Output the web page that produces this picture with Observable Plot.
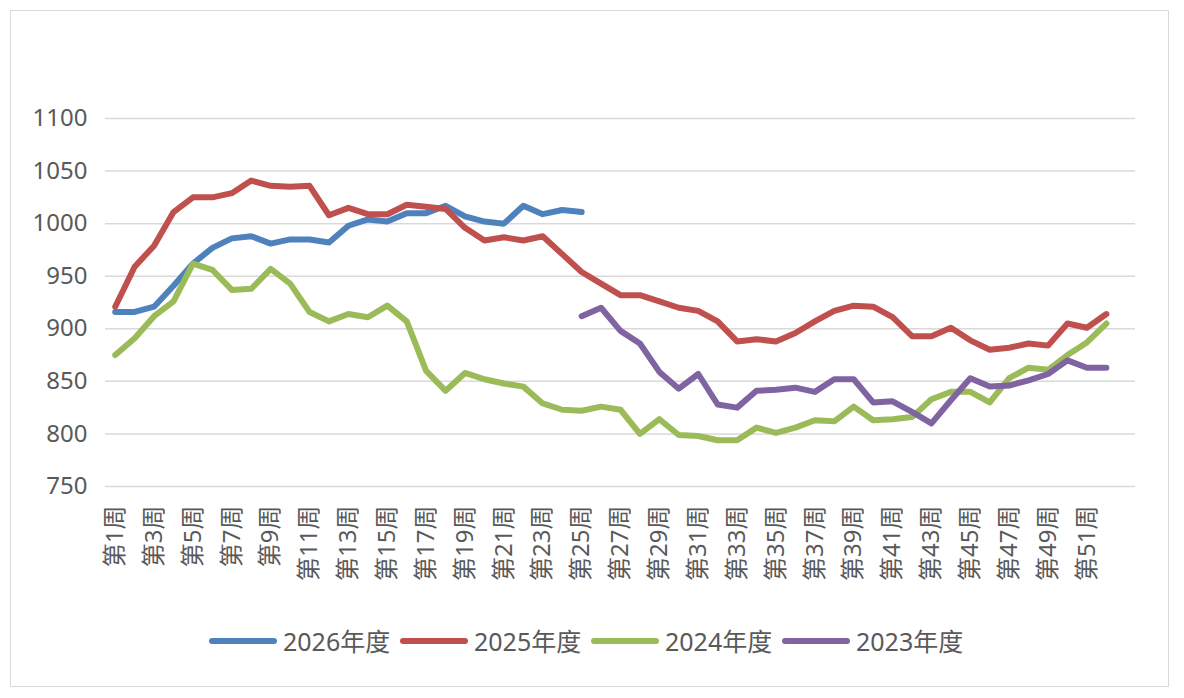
<!DOCTYPE html>
<html>
<head>
<meta charset="utf-8">
<script src="https://cdn.jsdelivr.net/npm/d3@7"></script>
<script src="https://cdn.jsdelivr.net/npm/@observablehq/plot@0.6"></script>
<style>
  html, body { margin: 0; padding: 0; background: #fff; }
  body { width: 1184px; height: 698px; position: relative; overflow: hidden;
         font-family: "Noto Sans", "Noto Sans CJK SC", sans-serif; color: #595959; }
  #frame { position: absolute; left: 10px; top: 10px; width: 1159px; height: 677px;
           border: 1px solid #d9d9d9; box-sizing: border-box; pointer-events: none; }
  #chart { position: absolute; left: 0; top: 0; }
  #legend { position: absolute; left: 0; top: 624px; width: 1184px; height: 34px; }
  .item { position: absolute; top: 0; height: 34px; display: flex; align-items: center; }
  .sw { width: 68px; height: 6px; border-radius: 3px; margin-right: 6px; }
  .lt { font-size: 25px; line-height: 34px; color: #595959; }
</style>
</head>
<body>
<div id="chart"></div>
<div id="legend"></div>
<div id="frame"></div>
<script>
const weeks = [1,2,3,4,5,6,7,8,9,10,11,12,13,14,15,16,17,18,19,20,21,22,23,24,25,26,27,28,29,30,31,32,33,34,35,36,37,38,39,40,41,42,43,44,45,46,47,48,49,50,51,52,53];
const tickWeeks = [1,3,5,7,9,11,13,15,17,19,21,23,25,27,29,31,33,35,37,39,41,43,45,47,49,51];
const yTicks = [750,800,850,900,950,1000,1050,1100];

const seriesNames = ["2026年度","2025年度","2024年度","2023年度"];
const seriesColors = ["#4f81bd","#c0504d","#9bbb59","#8064a2"];

// values by week, starting at the given week
const s2026 = [916,916,921,941,962,977,986,988,981,985,985,982,998,1004,1002,1010,1010,1017,1007,1002,1000,1017,1009,1013,1011];
const s2026Start = 1;
const s2025 = [921,959,979,1011,1025,1025,1029,1041,1036,1035,1036,1008,1015,1009,1009,1018,1016,1014,996,984,987,984,988,971,954,943,932,932,926,920,917,907,888,890,888,896,907,917,922,921,911,893,893,901,889,880,882,886,884,905,901,914];
const s2025Start = 1;
const s2024 = [875,891,912,926,962,956,937,938,957,943,916,907,914,911,922,907,860,841,858,852,848,845,829,823,822,826,823,800,814,799,798,794,794,806,801,806,813,812,826,813,814,816,833,840,840,830,853,863,861,875,887,905];
const s2024Start = 1;
const s2023 = [912,920,898,886,859,843,857,828,825,841,842,844,840,852,852,830,831,821,810,832,853,845,846,851,857,870,863,863];
const s2023Start = 25;

const seriesValues = [s2026, s2025, s2024, s2023];
const seriesStarts = [s2026Start, s2025Start, s2024Start, s2023Start];

const data = [];
seriesValues.forEach((vals, i) => {
  vals.forEach((v, j) => data.push({series: seriesNames[i], week: seriesStarts[i] + j, value: v}));
});

const font = '"Noto Sans", "Noto Sans CJK SC", sans-serif';

const chart = Plot.plot({
  width: 1184,
  height: 600,
  marginLeft: 105,
  marginRight: 49,
  marginTop: 118,
  marginBottom: 114,
  x: {type: "point", domain: weeks, padding: 0.5, round: false},
  y: {domain: [750, 1100]},
  color: {domain: seriesNames, range: seriesColors},
  style: {fontFamily: font, fontSize: "24px", color: "#595959", background: "transparent", overflow: "visible"},
  marks: [
    Plot.ruleY(yTicks, {stroke: "#d9d9d9", strokeWidth: 1.5}),
    Plot.axisY({ticks: yTicks, tickFormat: d => String(d), tickSize: 0, tickPadding: 18, label: null, fontSize: 24, fill: "#595959"}),
    Plot.axisX({ticks: tickWeeks, tickFormat: w => `第${w}周`, tickSize: 0, tickPadding: 19, tickRotate: -90, label: null, fontSize: 24, fill: "#595959"}),
    Plot.line(data, {x: "week", y: "value", z: "series", stroke: "series", strokeWidth: 6,
                     strokeLinecap: "round", strokeLinejoin: "round"})
  ]
});
document.getElementById("chart").appendChild(chart);

const legend = document.getElementById("legend");
seriesNames.forEach((name, i) => {
  const item = document.createElement("div");
  item.className = "item";
  item.style.left = (209 + i * 191) + "px";
  const sw = document.createElement("span");
  sw.className = "sw";
  sw.style.background = seriesColors[i];
  const t = document.createElement("span");
  t.className = "lt";
  t.textContent = name;
  item.appendChild(sw);
  item.appendChild(t);
  legend.appendChild(item);
});
</script>
</body>
</html>
